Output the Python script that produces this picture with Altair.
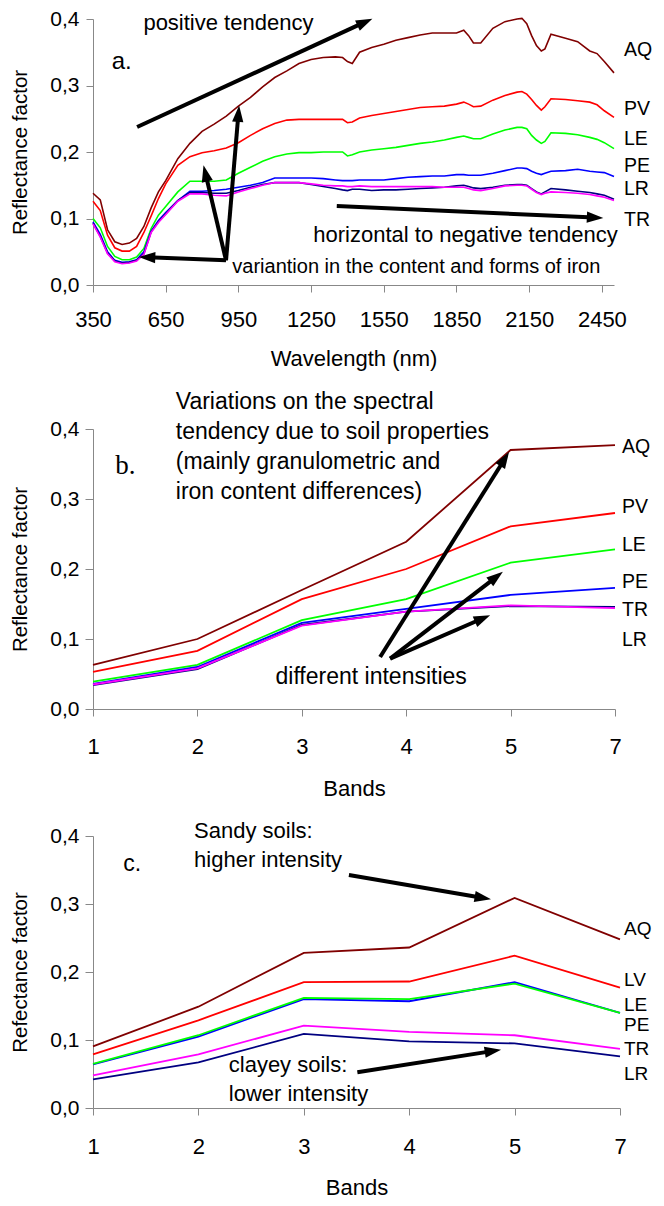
import math
import altair as alt
import pandas as pd

FONT = "Liberation Sans"

# ---------------- Panel a: spectral curves ----------------
WAVELENGTH = [350, 380, 410, 440, 470, 500, 530, 560, 590, 620,
              650, 700, 750, 800, 850, 900, 950, 1000, 1050, 1100,
              1150, 1200, 1250, 1300, 1350, 1380, 1400, 1420, 1450, 1500,
              1550, 1600, 1650, 1700, 1750, 1800, 1850, 1880, 1900, 1920,
              1950, 2000, 2050, 2100, 2120, 2140, 2160, 2180, 2200, 2215,
              2240, 2300, 2350, 2400, 2430, 2460, 2500]

A_AQ = [0.138, 0.128, 0.083, 0.065, 0.061, 0.063, 0.070, 0.088, 0.116, 0.140,
        0.157, 0.190, 0.213, 0.231, 0.242, 0.254, 0.269, 0.282, 0.298, 0.312,
        0.322, 0.333, 0.339, 0.342, 0.343, 0.342, 0.336, 0.333, 0.350, 0.357,
        0.362, 0.368, 0.372, 0.376, 0.379, 0.379, 0.379, 0.383, 0.375, 0.364,
        0.364, 0.386, 0.396, 0.400, 0.401, 0.393, 0.375, 0.360, 0.352, 0.355,
        0.377, 0.371, 0.366, 0.352, 0.348, 0.336, 0.319]
A_PV = [0.126, 0.112, 0.075, 0.056, 0.051, 0.051, 0.058, 0.079, 0.104, 0.130,
        0.152, 0.180, 0.193, 0.199, 0.202, 0.206, 0.214, 0.225, 0.235, 0.243,
        0.248, 0.249, 0.249, 0.249, 0.249, 0.249, 0.244, 0.245, 0.251, 0.255,
        0.258, 0.261, 0.264, 0.267, 0.268, 0.269, 0.272, 0.275, 0.272, 0.268,
        0.269, 0.278, 0.285, 0.290, 0.291, 0.287, 0.279, 0.270, 0.263, 0.268,
        0.280, 0.279, 0.277, 0.275, 0.271, 0.262, 0.252]
A_LE = [0.100, 0.086, 0.058, 0.043, 0.038, 0.038, 0.042, 0.055, 0.085, 0.105,
        0.118, 0.140, 0.156, 0.156, 0.156, 0.158, 0.168, 0.177, 0.186, 0.193,
        0.197, 0.199, 0.199, 0.200, 0.200, 0.200, 0.194, 0.196, 0.200, 0.203,
        0.205, 0.207, 0.210, 0.213, 0.215, 0.218, 0.222, 0.224, 0.222, 0.220,
        0.220, 0.227, 0.233, 0.237, 0.237, 0.235, 0.225, 0.218, 0.213, 0.216,
        0.229, 0.228, 0.226, 0.222, 0.219, 0.214, 0.205]
A_PE = [0.095, 0.076, 0.050, 0.037, 0.034, 0.035, 0.038, 0.050, 0.081, 0.097,
        0.109, 0.127, 0.141, 0.141, 0.142, 0.144, 0.147, 0.150, 0.154, 0.161,
        0.161, 0.161, 0.161, 0.160, 0.158, 0.157, 0.157, 0.157, 0.158, 0.158,
        0.158, 0.160, 0.162, 0.163, 0.164, 0.164, 0.166, 0.166, 0.165, 0.165,
        0.165, 0.168, 0.172, 0.176, 0.176, 0.175, 0.171, 0.168, 0.166, 0.168,
        0.171, 0.172, 0.174, 0.171, 0.170, 0.169, 0.163]
A_LR = [0.093, 0.073, 0.048, 0.036, 0.033, 0.034, 0.037, 0.047, 0.080, 0.095,
        0.107, 0.127, 0.139, 0.139, 0.138, 0.138, 0.142, 0.147, 0.151, 0.154,
        0.154, 0.154, 0.151, 0.148, 0.145, 0.143, 0.142, 0.144, 0.144, 0.142,
        0.143, 0.143, 0.144, 0.145, 0.146, 0.147, 0.149, 0.150, 0.148, 0.146,
        0.145, 0.147, 0.150, 0.151, 0.151, 0.150, 0.145, 0.140, 0.137, 0.140,
        0.145, 0.143, 0.141, 0.139, 0.137, 0.135, 0.129]
A_TR = [0.092, 0.072, 0.047, 0.035, 0.032, 0.033, 0.036, 0.046, 0.079, 0.094,
        0.106, 0.126, 0.137, 0.137, 0.135, 0.134, 0.140, 0.145, 0.150, 0.154,
        0.154, 0.154, 0.152, 0.150, 0.149, 0.149, 0.148, 0.148, 0.149, 0.148,
        0.148, 0.148, 0.148, 0.148, 0.148, 0.147, 0.147, 0.147, 0.145, 0.143,
        0.142, 0.145, 0.149, 0.150, 0.150, 0.149, 0.144, 0.139, 0.136, 0.138,
        0.140, 0.139, 0.138, 0.136, 0.134, 0.132, 0.127]

A_SERIES = ["AQ", "PV", "LE", "PE", "LR", "TR"]
A_VALUES = [A_AQ, A_PV, A_LE, A_PE, A_LR, A_TR]
A_COLORS = ["#800000", "#FF0000", "#00FF00", "#0000FF", "#000080", "#FF00FF"]
A_LABELS = ["AQ", "PV", "LE", "PE", "LR", "TR"]
A_LABEL_Y = [0.353, 0.264, 0.219, 0.179, 0.144, 0.097]

# ---------------- Panel b: band averages ----------------
BANDS = ["1", "2", "3", "4", "5", "7"]
B_SERIES = ["AQ", "PV", "LE", "PE", "LR", "TR"]
B_VALUES = [
    [0.063, 0.100, 0.170, 0.239, 0.370, 0.377],
    [0.053, 0.083, 0.157, 0.200, 0.261, 0.280],
    [0.039, 0.063, 0.127, 0.157, 0.209, 0.228],
    [0.036, 0.060, 0.123, 0.143, 0.163, 0.173],
    [0.034, 0.057, 0.120, 0.139, 0.147, 0.146],
    [0.035, 0.058, 0.119, 0.139, 0.148, 0.144],
]
B_COLORS = ["#800000", "#FF0000", "#00FF00", "#0000FF", "#000080", "#FF00FF"]
B_LABELS = ["AQ", "PV", "LE", "PE", "TR", "LR"]
B_LABEL_Y = [0.374, 0.288, 0.235, 0.181, 0.142, 0.099]

# ---------------- Panel c: band averages ----------------
C_SERIES = ["AQ", "LV", "PE", "LE", "LR", "TR"]
C_VALUES = [
    [0.0905, 0.149, 0.228, 0.236, 0.309, 0.248],
    [0.079, 0.129, 0.185, 0.186, 0.224, 0.177],
    [0.064, 0.105, 0.160, 0.157, 0.185, 0.140],
    [0.065, 0.107, 0.162, 0.160, 0.183, 0.140],
    [0.042, 0.067, 0.109, 0.098, 0.095, 0.076],
    [0.048, 0.079, 0.121, 0.112, 0.107, 0.087],
]
C_COLORS = ["#800000", "#FF0000", "#0000FF", "#00FF00", "#000080", "#FF00FF"]
C_LABELS = ["AQ", "LV", "LE", "PE", "TR", "LR"]
C_LABEL_Y = [0.263, 0.188, 0.152, 0.1215, 0.0869, 0.0504]

# ---------------- Annotations (data units) ----------------
A_TEXT = ["a.", "positive tendency", "horizontal to negative tendency",
          "variantion in the content and forms of iron"]
A_TEXT_X = [427, 558, 1259, 925]
A_TEXT_Y = [0.325, 0.383, 0.0647, 0.018]
A_ARROW_X = [532, 1356, 899, 899, 899]
A_ARROW_Y = [0.2376, 0.1188, 0.0371, 0.0371, 0.0371]
A_ARROW_X2 = [1503, 2456, 539, 806, 953]
A_ARROW_Y2 = [0.4005, 0.1008, 0.0421, 0.180, 0.270]

B_TEXT = ["Variations on the spectral", "tendency due to soil properties",
          "(mainly granulometric and", "iron content differences)",
          "different intensities"]
B_TEXT_X = [0.793, 0.793, 0.793, 0.793, 1.748]
B_TEXT_Y = [0.4286, 0.3857, 0.3429, 0.300, 0.0357]
B_ARROW_X = [2.750, 2.846, 2.846]
B_ARROW_Y = [0.0743, 0.0719, 0.0719]
B_ARROW_X2 = [3.985, 3.926, 3.804]
B_ARROW_Y2 = [0.367, 0.196, 0.134]

C_TEXT = ["c.", "Sandy soils:", "higher intensity", "clayey soils:", "lower intensity"]
C_TEXT_X = [0.287, 0.959, 0.959, 1.288, 1.288]
C_TEXT_Y = [0.349, 0.397, 0.354, 0.0526, 0.0102]
C_ARROW_X = [2.428, 2.508]
C_ARROW_Y = [0.3426, 0.0526]
C_ARROW_X2 = [3.776, 3.872]
C_ARROW_Y2 = [0.307, 0.0857]

ARROW_PATH = "M0,0L0.75,2.2L-0.75,2.2Z"
COMMA_FMT = "replace(format(datum.value, '.1f'), '.', ',')"


def arrow_frames(xs, ys, x2s, y2s, kx, ky, shorten=9.0):
    rules, heads = [], []
    for x, y, x2, y2 in zip(xs, ys, x2s, y2s):
        px = (x2 - x) * kx
        py = (y2 - y) * ky
        length = math.hypot(px, py)
        ang = math.degrees(math.atan2(px, py)) % 360
        xe = x2 - (px / length) * shorten / kx
        ye = y2 - (py / length) * shorten / ky
        rules.append({"x": x, "y": y, "xe": xe, "ye": ye})
        heads.append({"x": x2, "y": y2, "angle": ang})
    return pd.DataFrame(rules), pd.DataFrame(heads)


def series_frame(xs, values_list, names, colors):
    rows = []
    for name, vals, col in zip(names, values_list, colors):
        for k, (x, v) in enumerate(zip(xs, vals)):
            rows.append({"series": name, "x": x, "y": v, "k": k, "c": col})
    return pd.DataFrame(rows)


def panel(line_df, xaxis, xscale, yaxis, label_df, label_dx, text_df,
          rule_df, head_df, width, height, line_w, label_fs=19.5, extra=None):
    yscale = alt.Scale(domain=[0, 0.4], nice=False, zero=False)
    lines = alt.Chart(line_df).mark_line(strokeWidth=line_w).encode(
        x=alt.X("x:Q", scale=xscale, axis=xaxis),
        y=alt.Y("y:Q", scale=yscale, axis=yaxis),
        detail="series:N",
        color=alt.Color("c:N", scale=None),
        order=alt.Order("k:Q"),
    )
    labels = alt.Chart(label_df).mark_text(
        align="left", baseline="middle", fontSize=label_fs, font=FONT, color="black", dx=label_dx
    ).encode(x="x:Q", y="y:Q", text="t:N")
    texts = alt.Chart(text_df).mark_text(
        align="left", baseline="alphabetic", fontSize=22, font=FONT, color="black"
    ).encode(x="x:Q", y="y:Q", text="t:N", size=alt.Size("fs:Q", scale=None))
    rules = alt.Chart(rule_df).mark_rule(strokeWidth=4, color="black", strokeCap="butt").encode(
        x="x:Q", y="y:Q", x2="xe:Q", y2="ye:Q")
    heads = alt.Chart(head_df).mark_point(
        shape=ARROW_PATH, filled=True, size=225, color="black", opacity=1, strokeWidth=0
    ).encode(x="x:Q", y="y:Q", angle=alt.Angle("angle:Q", scale=None))
    layers = [lines, labels, texts, rules, heads]
    if extra is not None:
        layers.append(extra)
    return alt.layer(*layers).properties(width=width, height=height)


def y_axis(title, tick, pad):
    return alt.Axis(values=[0, 0.1, 0.2, 0.3, 0.4], labelExpr=COMMA_FMT, tickSize=tick,
                    labelPadding=pad, title=title, titlePadding=19, grid=False,
                    labelFontSize=21, titleFontSize=20.5)


def band_axis(tpad, lpad):
    return alt.Axis(
        values=list(range(len(BANDS))), labelExpr=f"{BANDS}[datum.value]", tickSize=7,
        labelPadding=lpad, labelFlush=False, title="Bands", titlePadding=tpad, grid=False,
        labelFontSize=22, titleFontSize=22)


# ----- panel a -----
WA, HA = 521, 266
a_lines = series_frame(WAVELENGTH, A_VALUES, A_SERIES, A_COLORS)
a_labels = pd.DataFrame({"x": [WAVELENGTH[-1]] * 6, "y": A_LABEL_Y, "t": A_LABELS})
a_text = pd.DataFrame({"x": A_TEXT_X, "y": A_TEXT_Y, "t": A_TEXT, "fs": [24, 22, 22, 20]})
a_rules, a_heads = arrow_frames(A_ARROW_X, A_ARROW_Y, A_ARROW_X2, A_ARROW_Y2, WA / 2150, HA / 0.4)
panel_a = panel(
    a_lines,
    alt.Axis(values=list(range(350, 2451, 300)), format="d", tickSize=7, labelPadding=17,
             labelFlush=False, title="Wavelength (nm)", titlePadding=18, grid=False,
             labelFontSize=22, titleFontSize=22),
    alt.Scale(domain=[350, 2500], nice=False, zero=False),
    y_axis("Reflectance factor", 7, 7),
    a_labels, 10, a_text, a_rules, a_heads, WA, HA, 1.6)

# ----- panel b -----
WB, HB = 522, 280
b_lines = series_frame(list(range(len(BANDS))), B_VALUES, B_SERIES, B_COLORS)
b_labels = pd.DataFrame({"x": [len(BANDS) - 1] * 6, "y": B_LABEL_Y, "t": B_LABELS})
b_text = pd.DataFrame({"x": B_TEXT_X, "y": B_TEXT_Y, "t": B_TEXT, "fs": [23] * 5})
b_rules, b_heads = arrow_frames(B_ARROW_X, B_ARROW_Y, B_ARROW_X2, B_ARROW_Y2, WB / 5, HB / 0.4)
b_letter = alt.Chart(pd.DataFrame({"x": [0.213], "y": [0.336], "t": ["b."]})).mark_text(
    align="left", baseline="alphabetic", fontSize=27, font="Liberation Serif", color="black"
).encode(x="x:Q", y="y:Q", text="t:N")
panel_b = panel(
    b_lines, band_axis(21, 20),
    alt.Scale(domain=[0, 5], nice=False, zero=False),
    y_axis("Reflectance factor", 8, 6),
    b_labels, 7, b_text, b_rules, b_heads, WB, HB, 1.8, extra=b_letter)

# ----- panel c -----
WC, HC = 527, 272
c_lines = series_frame(list(range(len(BANDS))), C_VALUES, C_SERIES, C_COLORS)
c_labels = pd.DataFrame({"x": [len(BANDS) - 1] * 6, "y": C_LABEL_Y, "t": C_LABELS})
c_text = pd.DataFrame({"x": C_TEXT_X, "y": C_TEXT_Y, "t": C_TEXT, "fs": [23, 22, 22, 22, 22]})
c_rules, c_heads = arrow_frames(C_ARROW_X, C_ARROW_Y, C_ARROW_X2, C_ARROW_Y2, WC / 5, HC / 0.4)
panel_c = panel(
    c_lines, band_axis(20, 21),
    alt.Scale(domain=[0, 5], nice=False, zero=False),
    y_axis("Refectance factor", 8, 6),
    c_labels, 4, c_text, c_rules, c_heads, WC, HC, 1.8, label_fs=19)

chart = alt.concat(panel_a, panel_b, panel_c, columns=1, spacing=21).properties(
    padding={"left": 2, "top": 0, "right": 0, "bottom": 0}
).configure_view(stroke=None).configure_axis(
    domainColor="#888888", tickColor="#888888", labelColor="black", titleColor="black",
    labelFont=FONT, titleFont=FONT, titleFontWeight="normal"
)

chart.save("out.html", embed_options={"renderer": "svg", "actions": False})
